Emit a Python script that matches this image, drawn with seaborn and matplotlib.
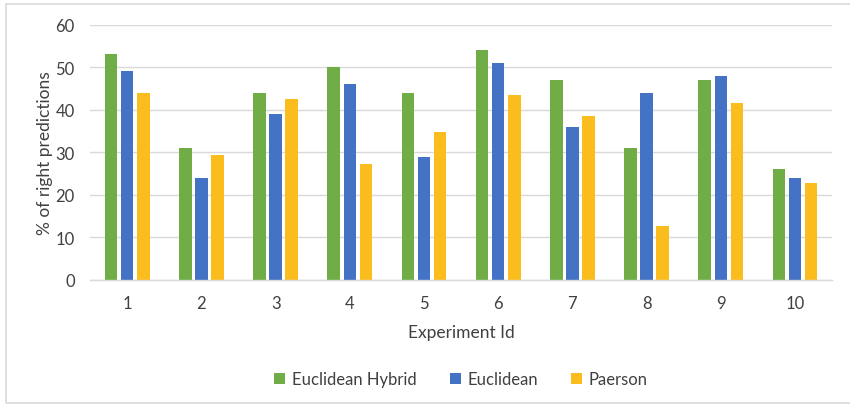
import matplotlib
matplotlib.use("Agg")
import matplotlib.pyplot as plt
import seaborn as sns
import pandas as pd
from matplotlib.patches import Rectangle

# Experiment results (% of right predictions)
experiments = ["1", "2", "3", "4", "5", "6", "7", "8", "9", "10"]
euclidean_hybrid = [53, 31, 44, 50, 44, 54, 47, 31, 47, 26]
euclidean = [49, 24, 39, 46, 29, 51, 36, 44, 48, 24]
paerson = [44, 29.4, 42.6, 27.2, 34.7, 43.4, 38.5, 12.6, 41.5, 22.7]
methods = ["Euclidean Hybrid", "Euclidean", "Paerson"]
colors = ["#70AD47", "#4472C4", "#FBBC1E"]

df = pd.DataFrame({
    "Experiment Id": experiments * 3,
    "value": euclidean_hybrid + euclidean + paerson,
    "method": [m for m in methods for _ in experiments],
})

sns.set_theme(style="white")
plt.rcParams["font.family"] = ["Lato", "DejaVu Sans"]

fig = plt.figure(figsize=(8.5, 4.06), dpi=100)
ax = fig.add_axes([0.106, 0.308, 0.873, 0.629])

sns.barplot(data=df, x="Experiment Id", y="value", hue="method",
            order=experiments, hue_order=methods, palette=colors,
            width=0.65, gap=0.22, ax=ax, legend=True, saturation=1,
            linewidth=0, errorbar=None)

ax.set_ylim(0, 60)
ax.set_yticks(range(0, 61, 10))
ax.set_xlim(-0.5, len(experiments) - 0.5)
ax.yaxis.grid(True, color="#d9d9d9", linewidth=1)
ax.set_axisbelow(True)
for side in ["top", "right", "left"]:
    ax.spines[side].set_visible(False)
ax.spines["bottom"].set_color("#d9d9d9")
ax.spines["bottom"].set_linewidth(1)
ax.tick_params(axis="both", length=0, labelsize=12, colors="#404040")
ax.tick_params(axis="x", pad=11)
ax.tick_params(axis="y", pad=11)
ax.set_ylabel("% of right predictions", fontsize=12.5, color="#404040", labelpad=2)
ax.set_xlabel("Experiment Id", fontsize=12.5, color="#404040", labelpad=9)

ax.legend(loc="center", bbox_to_anchor=(0.5, -0.388), ncol=3,
          frameon=False, fontsize=12, handlelength=0.65, handleheight=0.65,
          handletextpad=0.4, columnspacing=2.0, labelcolor="#404040")

# light chart frame
fig.add_artist(Rectangle((5.5 / 850, 2 / 406), 850 / 850, 399 / 406,
                         transform=fig.transFigure, fill=False,
                         edgecolor="#d9d9d9", linewidth=1.2))

fig.savefig("out.png", dpi=100)
